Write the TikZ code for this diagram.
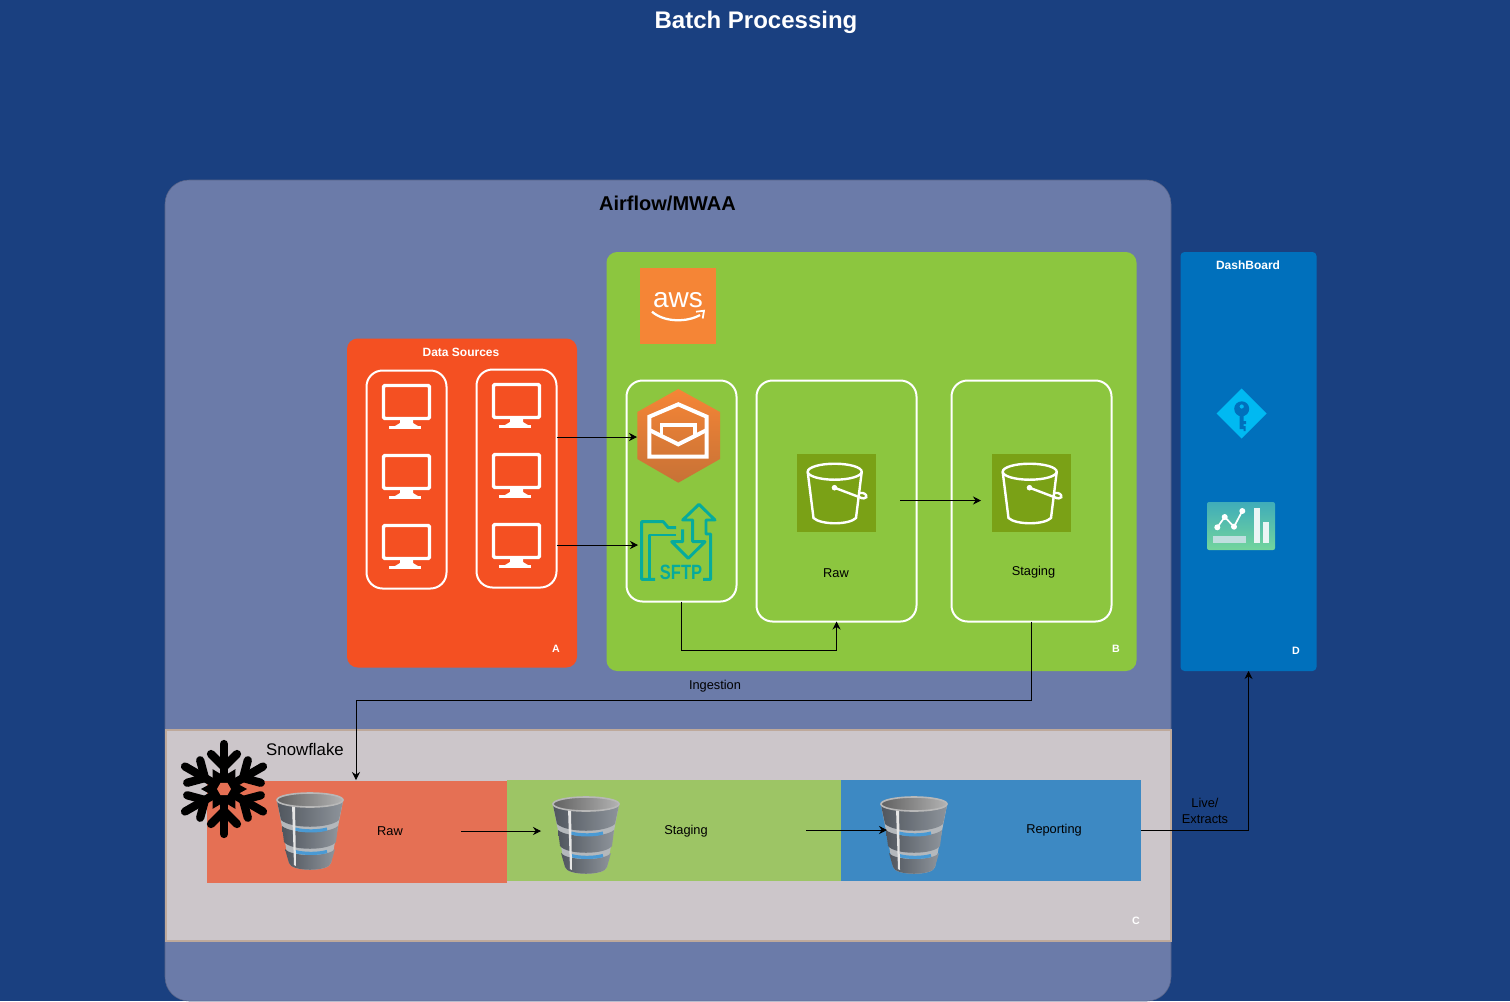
\documentclass[tikz,border=0pt]{standalone}
\usepackage{xcolor}
\usepackage{fontspec}
\setmainfont{Liberation Sans}
\usepackage{tikz}
\usetikzlibrary{arrows.meta,positioning,calc}

\definecolor{pagebg}{HTML}{1A4080}
\definecolor{airflowbg}{HTML}{6B7BA9}
\definecolor{sourcebg}{HTML}{F45022}
\definecolor{awsbg}{HTML}{8CC63F}
\definecolor{dashbg}{HTML}{0070BC}
\definecolor{snowbg}{HTML}{CCC6CA}
\definecolor{rawbg}{HTML}{E57054}
\definecolor{stagingbg}{HTML}{9DC565}
\definecolor{reportbg}{HTML}{3D89C3}
\definecolor{awsorange}{HTML}{F58536}
\definecolor{bucketbg}{HTML}{7AA116}
\definecolor{sftpteal}{HTML}{06AB9C}
\definecolor{keyblue}{HTML}{00B9F2}
\definecolor{dbdark}{HTML}{50565E}
\definecolor{dbmid}{HTML}{6A7078}
\definecolor{dblight}{HTML}{8E949B}
\definecolor{dbring}{HTML}{B4B8BC}
\definecolor{dbglow}{HTML}{4A9AD4}

\tikzset{
	sized/.style 2 args={minimum width=#1*0.75pt,minimum height=#2*0.75pt,inner sep=0pt,outer sep=0pt},
	panel/.style={draw=none,rounded corners=8pt},
	innerbox/.style={draw=white,line width=1.5pt,rounded corners=12pt},
	strip/.style={fill=#1},
	conn/.style={-{Stealth[length=6pt,width=6pt]},black,line width=0.6pt},
	lbl/.style={font=\fontsize{9.6}{11}\selectfont,text=black},
	wlbl/.style={font=\bfseries\fontsize{9}{11}\selectfont,text=white},
	corner/.style={font=\bfseries\fontsize{8}{10}\selectfont,text=white},
	monitor/.pic={
		\draw[white,line width=2.6pt,rounded corners=1pt] (1.5,1.5) rectangle (47.5,34.5);
		\fill[white] (18,35) -- (31,35) -- (31,39) -- (36,42) -- (13,42) -- (18,39) -- cycle;
		\fill[white] (7,41.5) rectangle (39,45);
	},
	bucket/.pic={
		\fill[bucketbg] (0,0) rectangle (79,78);
		\draw[white,line width=1.8pt] (37.7,17.7) ellipse [x radius=27,y radius=8];
		\draw[white,line width=1.8pt] (10.7,18) -- (16.5,64) .. controls (24,71) and (52,71) .. (59,64) -- (64.7,18);
		\fill[white] (37.5,33.7) circle (2.8);
		\draw[white,line width=1.8pt] (37.5,33.7) -- (62,43) .. controls (70,47) and (72,41) .. (66,39) .. controls (64,38.5) and (62,39) .. (61.5,40);
	},
	dbstack/.pic={
		\fill[dbring] (1,9) -- (13,71) .. controls (15,80) and (53,80) .. (55,71) -- (67,9) -- cycle;
		\foreach \xa/\xb/\ya/\yb/\yc in {1/5/9/28/37,6/8/34/50/59,9/13/57/71/80}{
			\shade[left color=dbdark,middle color=dbmid,right color=dblight]
				(\xa,\ya) -- (\xb,\yb) .. controls (15,\yc) and (53,\yc) .. (68-\xb,\yb) -- (68-\xa,\ya)
				.. controls (53,\ya+8) and (15,\ya+8) .. cycle;
		}
		% glow and highlight
		\draw[dbglow,line width=2.4pt] (19,37) .. controls (28,39.5) and (42,39.5) .. (51,37);
		\draw[dbglow,line width=2.4pt] (19,59.5) .. controls (28,62) and (42,62) .. (51,59.5);
		\fill[black!10] (16,12) -- (19,13) -- (20,74) -- (18,73) -- cycle;
		\shade[left color=black!62,right color=black!30,draw=black!28,line width=1.2pt] (34,8) ellipse [x radius=33,y radius=7];
	},
}

\begin{document}
\begin{tikzpicture}[x=0.75pt,y=-0.75pt]
	\useasboundingbox (0,0) rectangle (1510,1001);
	\fill[pagebg] (0,0) rectangle (1510,1001);

	\node[font=\bfseries\fontsize{18}{22}\selectfont,text=white] (title) at (756,22) {Batch Processing};

	% Panels
	\node[sized={1006}{821},fill=airflowbg,draw=airflowbg!80!black,line width=0.4pt,rounded corners=18pt] (airflow) at (668,590.5) {};
	\node[font=\bfseries\fontsize{15}{18}\selectfont,text=black] (airflowlbl) at (667.5,203) {Airflow/MWAA};
	\node[sized={230}{329},fill=sourcebg,panel] (sources) at (462,503) {};
	\node[sized={530}{419},fill=awsbg,panel] (aws) at (871.5,461.5) {};
	\node[sized={136}{419},fill=dashbg,rounded corners=3pt] (dash) at (1248.5,461.5) {};
	\node[sized={1005}{211},fill=snowbg,draw=snowbg!85!orange!90!black,line width=0.8pt] (snow) at (668.5,835.5) {};

	\node[wlbl] (sourceslbl) at (461,352) {Data Sources};
	\node[wlbl] (dashlbl) at (1248,265) {DashBoard};
	\node[corner] (cornerA) at (556,649) {A};
	\node[corner] (cornerB) at (1116,649) {B};
	\node[corner] (cornerC) at (1136,920.5) {C};
	\node[corner] (cornerD) at (1296,651) {D};

	% Data sources
	\node[sized={80}{218},innerbox] (srcA) at (406.5,479.5) {};
	\node[sized={80}{218},innerbox] (srcB) at (516.5,478.5) {};
	\foreach \y in {384,454,524}
		\pic at (382,\y) {monitor};
	\foreach \y in {383,453,523}
		\pic at (492,\y) {monitor};

	% AWS side
	\node[sized={76}{76},fill=awsorange] (awslogo) at (678,305.5) {};
	\node[font=\fontsize{21}{24}\selectfont,text=white] (awstext) at (678,300) {aws};
	\draw[white,line width=1.7pt] (652,311.7) .. controls (665,323) and (688,322) .. (700,315);
	\draw[white,line width=1.3pt] (696,311.7) -- (704,310.7) -- (702.7,318.5);

	\node[sized={110}{221},innerbox] (ingest) at (681.5,491) {};
	\node[sized={160}{241},innerbox] (rawbox) at (836.5,501) {};
	\node[sized={160}{241},innerbox] (stagebox) at (1031.5,501) {};

	% Mail icon
	\node[sized={82}{94}] (mail) at (678,437) {};
	\shade[top color=awsorange,bottom color=awsorange!80!black!95] (678.3,389) -- (720,412) -- (720,459) -- (678.3,482.7) -- (637.3,459) -- (637.3,412) -- cycle;
	\draw[white,line width=3pt,line join=miter] (649.3,416.7) -- (678.3,404.3) -- (706.7,416.7) -- (706.7,456.7) -- (649.3,456.7) -- cycle;
	\draw[white,line width=3pt] (649.3,430) -- (678.3,444.3) -- (706.7,430);
	\draw[white,line width=2.4pt] (661.7,435) -- (661.7,425) -- (695,425) -- (695,435);

	% SFTP icon
	\node[sized={76}{84}] (sftp) at (676,545) {};
	\draw[sftpteal,line width=2.2pt,line join=round] (655,579.3) -- (641.7,579.3) -- (641.7,521.7) -- (663.3,521.7) -- (668.3,527.7) -- (676,527.7);
	\draw[sftpteal,line width=2.2pt,line join=round] (676,535) -- (649.3,535) -- (649.3,579.3) -- (655,579.3);
	\draw[sftpteal,line width=2.2pt,line join=round] (703,579.3) -- (710.7,579.3) -- (710.7,534) -- (706,534) -- (706,520) -- (715,520) -- (699,504.3) -- (682.7,520) -- (692.7,520) -- (692.7,541.7) -- (705,541.7) -- (688.3,558.3) -- (671.7,541.7) -- (682.7,541.7) -- (682.7,529.3);
	\node[font=\bfseries\fontsize{15.5}{18}\selectfont,text=sftpteal,xscale=0.8] (sftplbl) at (681,572.5) {SFTP};

	% Buckets
	\pic at (797,454) {bucket};
	\pic at (992,454) {bucket};
	\node[lbl] (rawlbl) at (836,573) {Raw};
	\node[lbl] (stagelbl) at (1033.5,572) {Staging};
	\coordinate (rawout) at (900,500.5);
	\coordinate (stagein) at (981,500.5);

	% Dashboard icons
	\fill[keyblue] (1241.5,388.5) -- (1266.5,413.5) -- (1241.5,438.5) -- (1216.5,413.5) -- cycle;
	\fill[dashbg,even odd rule] (1241.7,408.8) circle (7.5) (1241.7,406.5) circle (2.2);
	\fill[dashbg] (1239.7,414) rectangle (1243.7,429) (1243.7,421) rectangle (1246,424) (1243.7,426) rectangle (1245.5,431);
	\shade[top color=keyblue!30!teal!75!white,bottom color=teal!60!green!55!white,rounded corners=1.5pt] (1207,502) rectangle (1275,550);
	\fill[white!75!teal] (1212.7,535.7) rectangle (1245.7,543.3);
	\fill[white!92!teal] (1254,507.7) rectangle (1260,543.3);
	\fill[white!92!teal] (1263,522.3) rectangle (1269,543.3);
	\draw[white,line width=1.3pt] (1217.3,527.3) -- (1224.7,517) -- (1234,526.7) -- (1242.3,511);
	\foreach \px/\py in {1217.3/527.3,1224.7/517,1234/526.7,1242.3/511}
		\fill[white] (\px,\py) circle (3);

	% Snowflake strips
	\node[sized={300}{102},strip=rawbg] (rawstrip) at (356.5,831.5) {};
	\node[sized={334}{101},strip=stagingbg] (stagestrip) at (673.5,830) {};
	\node[sized={300}{101},strip=reportbg] (reportstrip) at (990.5,830) {};
	\node[font=\fontsize{12.6}{14}\selectfont,text=black] (snowlbl) at (305,749.5) {Snowflake};
	\node[lbl] (sfraw) at (390,831) {Raw};
	\node[lbl] (sfstage) at (686,831) {Staging};
	\node[lbl] (sfreport) at (1054,830) {Reporting};

	% Snowflake mark
	\begin{scope}[shift={(224,789)}]
		\fill[black] (0:23) -- (30:13) -- (60:23) -- (90:13) -- (120:23) -- (150:13) -- (180:23) -- (210:13) -- (240:23) -- (270:13) -- (300:23) -- (330:13) -- cycle;
		\foreach \a in {30,90,...,330}{
			\draw[black,line width=6.2pt,line cap=round,rotate=\a] (0,0) -- (45,0);
			\draw[black,line width=6.2pt,line cap=round,rotate=\a] (22,0) -- (35,-13) (22,0) -- (35,13);
		}
		\fill[rawbg] (0:7) -- (60:7) -- (120:7) -- (180:7) -- (240:7) -- (300:7) -- cycle;
	\end{scope}

	% Database icons
	\pic at (276,792) {dbstack};
	\pic at (552,796) {dbstack};
	\pic at (880,796) {dbstack};
	\coordinate (rawdbout) at (461,831);
	\coordinate (stagedbin) at (541,831);
	\coordinate (stagedbout) at (806,830);
	\coordinate (reportdbin) at (887,830);

	% Connectors
	\draw[conn] (srcB.east |- mail.west) -- (mail.west);
	\draw[conn] (srcB.east |- sftp.west) -- (sftp.west);
	\draw[conn] (ingest.south) -- ++(0,49) -| (rawbox.south);
	\draw[conn] (rawout) -- (stagein);
	\draw[conn] (stagebox.south) |- (356,700) -- (356,780);
	\draw[conn] (rawdbout) -- (stagedbin);
	\draw[conn] (stagedbout) -- (reportdbin);
	\draw[conn] (reportstrip.east) -| (dash.south);

	\node[lbl] (ingestlbl) at (715,686) {Ingestion};
	\node[lbl,align=center] (livelbl) at (1205,810.5) {Live/\\[1pt]Extracts};
\end{tikzpicture}
\end{document}
